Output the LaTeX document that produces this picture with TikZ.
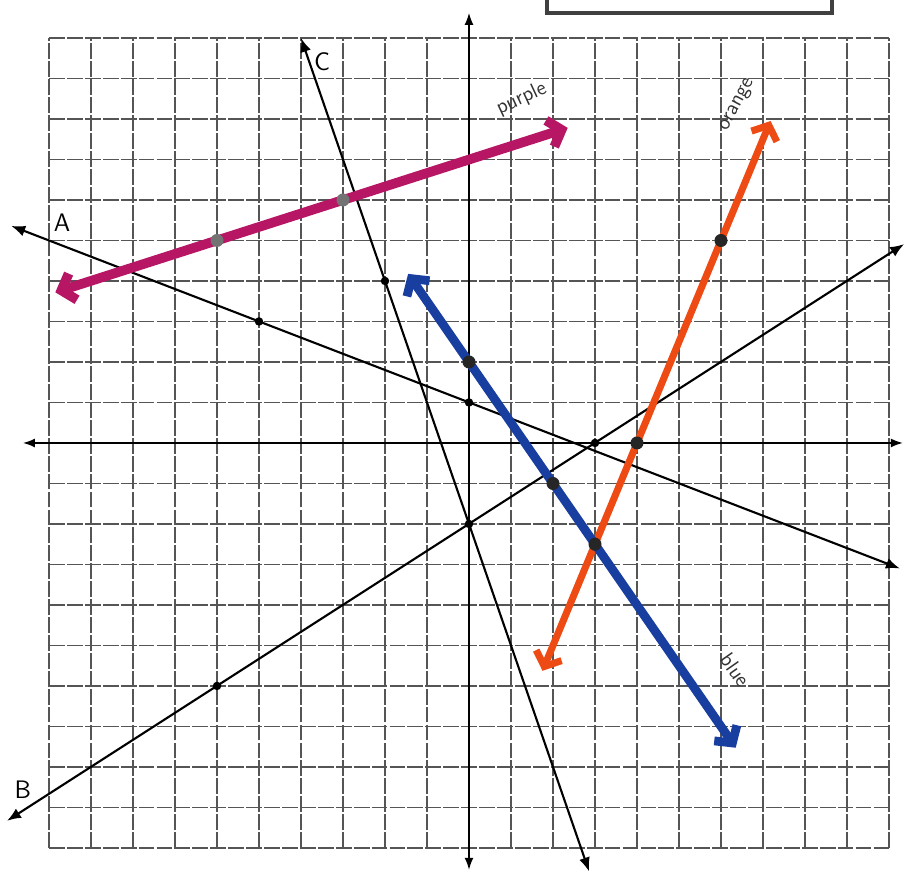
\documentclass[tikz,border=0pt]{standalone}
\usetikzlibrary{arrows.meta}
\definecolor{penPurple}{RGB}{182,22,100}
\definecolor{penOrange}{RGB}{238,74,20}
\definecolor{penBlue}{RGB}{24,62,160}
\definecolor{gridGray}{RGB}{85,85,85}

\begin{document}
\begin{tikzpicture}[
  x=0.84cm, y=0.81cm,
  gridline/.style={gridGray, line width=0.75pt, dash pattern=on 9pt off 1.2pt},
  axis/.style={<->, >={Latex[length=2.4mm,width=1.8mm]}, line width=0.9pt},
  graphline/.style={<->, >={Latex[length=2.8mm,width=2.2mm]}, line width=1.2pt},
  marker/.style={<->, >={Straight Barb[length=2.4mm,width=5.5mm]}, line cap=round, line join=round},
  dot/.style={circle, fill=black, inner sep=0pt, minimum size=1.7mm},
  bigdot/.style={circle, fill=black!85, inner sep=0pt, minimum size=2.6mm},
  tag/.style={font=\sffamily\Large},
  hand/.style={font=\sffamily\large, black!80}
]
  \useasboundingbox (-11.167,-10.593) rectangle (10.381,10.938);
  \clip (-11.167,-10.593) rectangle (10.381,10.938);

  % graph paper
  \foreach \i in {-10,...,10} {
    \draw[gridline] (\i,-10) -- (\i,10);
    \draw[gridline] (-10,\i) -- (10,\i);
  }
  \draw[line width=2pt, black!75] (1.857,10.617) rectangle (8.643,11.4);

  % axes
  \coordinate (xw) at (-10.62,0);
  \coordinate (xe) at (10.33,0);
  \coordinate (ys) at (0,-10.54);
  \coordinate (yn) at (0,10.62);
  \draw[axis] (xw) -- (xe);
  \draw[axis] (ys) -- (yn);

  % lines A, B, C
  \coordinate (Aw) at (-10.9,5.36);
  \coordinate (Ae) at (10.26,-3.10);
  \coordinate (Bw) at (-11.0,-9.33);
  \coordinate (Be) at (10.36,4.91);
  \coordinate (Cn) at (-4,10);
  \coordinate (Cs) at (2.86,-10.58);
  \draw[graphline] (Aw) -- (Ae);
  \draw[graphline] (Bw) -- (Be);
  \draw[graphline] (Cn) -- (Cs);
  \node[tag] (Alabel) at (-9.69,5.45) {A};
  \node[tag] (Blabel) at (-10.62,-8.55) {B};
  \node[tag] (Clabel) at (-3.5,9.41) {C};

  % marker lines
  \coordinate (Pw) at (-9.85,3.72);
  \coordinate (Pe) at (2.35,7.78);
  \coordinate (On) at (7.18,7.95);
  \coordinate (Os) at (1.75,-5.625);
  \coordinate (Un) at (-1.45,4.175);
  \coordinate (Us) at (6.35,-7.525);
  \draw[marker, penPurple, line width=5.5pt] (Pw) -- (Pe);
  \draw[marker, penOrange, line width=4pt] (Os) -- (On);
  \draw[marker, penBlue, line width=5pt] (Un) -- (Us);
  \node[hand, rotate=25] (purple) at (1.25,8.5) {purple};
  \node[hand, rotate=62] (orange) at (6.4,8.35) {orange};
  \node[hand, rotate=-55] (blue) at (6.35,-5.6) {blue};

  % plotted points
  \node[dot] (A1) at (-5,3) {};
  \node[dot] (A2) at (0,1) {};
  \node[dot] (B1) at (-6,-6) {};
  \node[dot] (B2) at (0,-2) {};
  \node[dot] (B3) at (3,0) {};
  \node[dot] (C1) at (-2,4) {};
  \node[bigdot, fill=black!55] (P1) at (-6,5) {};
  \node[bigdot, fill=black!55] (P2) at (-3,6) {};
  \node[bigdot] (U1) at (0,2) {};
  \node[bigdot] (U2) at (2,-1) {};
  \node[bigdot] (U3) at (3,-2.5) {};
  \node[bigdot] (O1) at (4,0) {};
  \node[bigdot] (O2) at (6,5) {};
\end{tikzpicture}
\end{document}
